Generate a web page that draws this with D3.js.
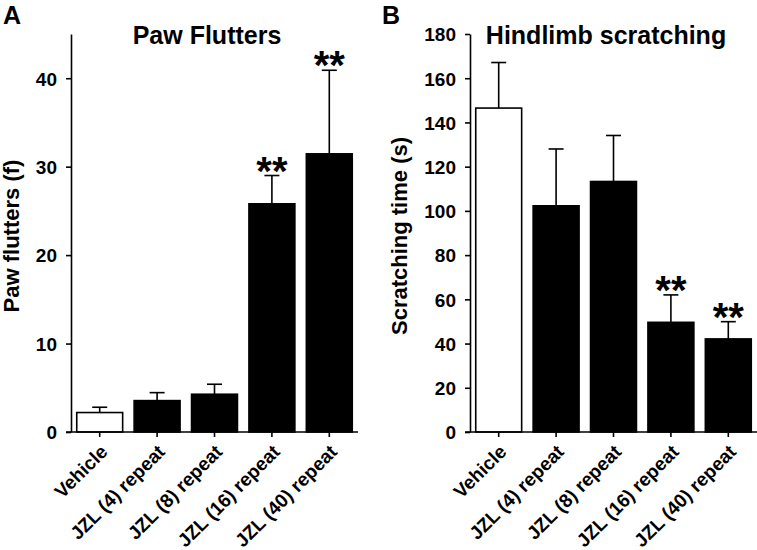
<!DOCTYPE html>
<html>
<head>
<meta charset="utf-8">
<script src="https://cdn.jsdelivr.net/npm/d3@7"></script>
<style>
  html, body { margin: 0; padding: 0; background: #fff; }
  svg { display: block; font-family: "Liberation Sans", Arial, sans-serif; }
  text { font-weight: bold; fill: #000; }
</style>
</head>
<body>
<svg id="chart" width="757" height="550"></svg>
<script>
// ---- data ----
const categories = ["Vehicle", "JZL (4) repeat", "JZL (8) repeat", "JZL (16) repeat", "JZL (40) repeat"];
const pawMean = [2.2, 3.55, 4.27, 25.8, 31.45];
const pawSem = [0.6, 0.9, 1.13, 3.2, 9.45];
const pawSig = ["", "", "", "**", "**"];
const pawTicks = [0, 10, 20, 30, 40];
const scratchMean = [146.5, 102.3, 113.3, 49.6, 42.1];
const scratchSem = [20.6, 25.7, 20.8, 12.4, 7.8];
const scratchSig = ["", "", "", "**", "**"];
const scratchTicks = [0, 20, 40, 60, 80, 100, 120, 140, 160, 180];

const svg = d3.select("#chart");

function panel(opt) {
  const g = svg.append("g");
  const y = d3.scaleLinear().domain([0, opt.yMax]).range([432, 34]);
  const x = d3.scaleBand().domain(categories).range([opt.axisX, opt.xEnd])
    .paddingInner(0.2).paddingOuter(0.1);

  const rows = categories.map((c, i) => ({c, m: opt.mean[i], e: opt.sem[i], s: opt.sig[i], i}));

  // error bars (upper only)
  const cap = 15;
  g.selectAll("line.err").data(rows).enter().append("line")
    .attr("x1", d => x(d.c) + x.bandwidth() / 2)
    .attr("x2", d => x(d.c) + x.bandwidth() / 2)
    .attr("y1", d => y(d.m)).attr("y2", d => y(d.m + d.e))
    .attr("stroke", "#000").attr("stroke-width", 1.6);
  g.selectAll("line.cap").data(rows).enter().append("line")
    .attr("x1", d => x(d.c) + x.bandwidth() / 2 - cap / 2)
    .attr("x2", d => x(d.c) + x.bandwidth() / 2 + cap / 2)
    .attr("y1", d => y(d.m + d.e)).attr("y2", d => y(d.m + d.e))
    .attr("stroke", "#000").attr("stroke-width", 1.6);

  // bars
  g.selectAll("rect.bar").data(rows).enter().append("rect")
    .attr("x", d => x(d.c))
    .attr("y", d => y(d.m))
    .attr("width", x.bandwidth())
    .attr("height", d => y(0) - y(d.m))
    .attr("fill", d => d.i === 0 ? "#fff" : "#000")
    .attr("stroke", "#000").attr("stroke-width", 1.6);

  // significance stars
  g.selectAll("text.sig").data(rows.filter(d => d.s)).enter().append("text")
    .attr("x", d => x(d.c) + x.bandwidth() / 2)
    .attr("y", d => y(d.m + d.e) + 9)
    .attr("text-anchor", "middle")
    .style("font-size", "40px")
    .text(d => d.s);

  // y axis
  const ya = g.append("g").attr("transform", `translate(${opt.axisX},0)`)
    .call(d3.axisLeft(y).tickValues(opt.ticks).tickSize(5).tickPadding(9).tickSizeOuter(0));
  ya.selectAll("path, line").attr("stroke", "#000").attr("stroke-width", 1.6);
  ya.attr("font-family", null).attr("font-size", null);
  ya.selectAll("text").style("font-size", "19px").attr("dy", "0.36em");

  // x axis
  g.append("line").attr("x1", opt.axisX - 5).attr("x2", opt.xEnd)
    .attr("y1", y(0)).attr("y2", y(0)).attr("stroke", "#000").attr("stroke-width", 1.6);
  const xa = g.append("g").attr("transform", `translate(0,${y(0)})`)
    .call(d3.axisBottom(x).tickSize(5).tickSizeOuter(0));
  xa.select("path.domain").remove();
  xa.selectAll("line").attr("stroke", "#000").attr("stroke-width", 1.6);
  xa.attr("font-family", null).attr("font-size", null);
  xa.selectAll("text")
    .style("font-size", "19px")
    .attr("text-anchor", "end")
    .attr("dy", null).attr("y", 0)
    .attr("transform", "translate(9,21) rotate(-45)");

  // title
  g.append("text").attr("x", opt.titleX).attr("y", 44)
    .attr("text-anchor", "middle").style("font-size", "25px").text(opt.title);
  // y label
  g.append("text").attr("transform", `translate(${opt.labelX},${opt.labelY}) rotate(-90)`)
    .attr("text-anchor", "middle").style("font-size", "22px").text(opt.ylabel);
  // panel letter
  g.append("text").attr("x", opt.letterX).attr("y", 24).style("font-size", "25px").text(opt.letter);
}

panel({mean: pawMean, sem: pawSem, sig: pawSig, ticks: pawTicks, yMax: 45,
  axisX: 71, xEnd: 358, title: "Paw Flutters", titleX: 207, ylabel: "Paw flutters (f)",
  labelX: 19, labelY: 236, letter: "A", letterX: 3});
panel({mean: scratchMean, sem: scratchSem, sig: scratchSig, ticks: scratchTicks, yMax: 180,
  axisX: 470, xEnd: 757, title: "Hindlimb scratching", titleX: 606, ylabel: "Scratching time (s)",
  labelX: 407, labelY: 236, letter: "B", letterX: 382});
</script>
</body>
</html>
